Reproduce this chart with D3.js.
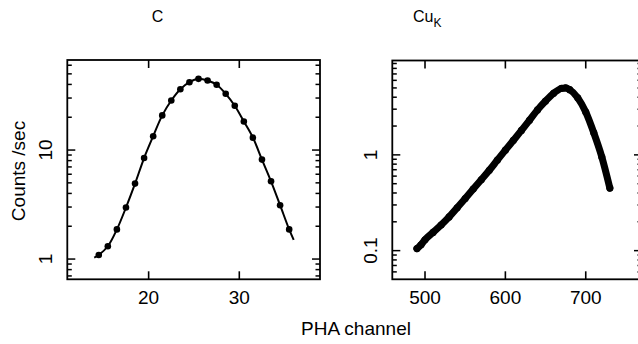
<!DOCTYPE html>
<html><head><meta charset="utf-8">
<script src="https://cdn.jsdelivr.net/npm/d3@7"></script>
<style>html,body{margin:0;padding:0;background:#fff;overflow:hidden} svg{display:block}</style>
</head><body>
<script>
// ---- data ----
const cChannel = [14.5,15.5,16.5,17.5,18.5,19.5,20.5,21.5,22.5,23.5,24.5,25.5,26.5,27.5,28.5,29.5,30.5,31.5,32.5,33.5,34.5,35.5];
const cCounts  = [1.09,1.31,1.87,2.97,4.92,8.45,13.4,20.8,28.5,36.1,41.9,45.0,43.4,39.7,32.8,25.5,18.3,13.0,8.17,5.17,3.12,1.87];
const cFitChannel = [14.0,14.5,15.5,16.5,17.5,18.5,19.5,20.5,21.5,22.5,23.5,24.5,25.5,26.5,27.5,28.5,29.5,30.5,31.5,32.5,33.5,34.5,35.5,36.0];
const cFitCounts  = [1.03,1.09,1.31,1.87,2.97,4.92,8.45,13.4,20.8,28.5,36.1,41.9,45.0,43.4,39.7,32.8,25.5,18.3,13.0,8.17,5.17,3.12,1.87,1.50];
const cuChannel = [490,495,500,510,520,530,540,550,560,570,580,590,600,610,620,630,640,650,660,670,675,680,690,700,710,720,730];
const cuCounts  = [0.105,0.115,0.13,0.155,0.185,0.225,0.28,0.35,0.44,0.55,0.69,0.88,1.12,1.42,1.8,2.3,2.95,3.65,4.4,4.95,5.0,4.8,3.95,2.8,1.7,0.95,0.45];
const cXTicks = [20,30];
const cuXTicks = [500,600,700];
const cYTickLabels = [1,10];
const cuYTickLabels = [0.1,1];
const titles = ["C","Cu"];
const yTitle = "Counts /sec";
const xTitle = "PHA channel";

const W = 638, H = 344;
const FONT = "'Liberation Sans', Arial, Helvetica, sans-serif";
const svg = d3.select("body").append("svg").attr("width", W).attr("height", H)
  .style("font-family", FONT);

function panel(o) {
  const x = d3.scaleLinear().domain(o.xDomain).range([o.left, o.right]);
  const y = d3.scaleLog().domain(o.yDomain).range([o.bottom, o.top]);
  const g = svg.append("g");
  g.append("rect").attr("x", o.left).attr("y", o.top)
    .attr("width", o.right - o.left).attr("height", o.bottom - o.top)
    .attr("fill", "none").attr("stroke", "#000").attr("stroke-width", 1.8);
  o.xTicks.forEach(t => {
    g.append("line").attr("x1", x(t)).attr("x2", x(t)).attr("y1", o.bottom).attr("y2", o.bottom - 8)
      .attr("stroke", "#000").attr("stroke-width", 1.6);
    g.append("line").attr("x1", x(t)).attr("x2", x(t)).attr("y1", o.top).attr("y2", o.top + 8)
      .attr("stroke", "#000").attr("stroke-width", 1.6);
    g.append("text").attr("x", x(t)).attr("y", o.bottom + 25).attr("text-anchor", "middle")
      .attr("font-size", 19).text(t);
  });
  y.ticks().forEach(t => {
    const lg = Math.log10(t);
    const major = Math.abs(lg - Math.round(lg)) < 1e-6;
    const len = major ? 8 : 4.5;
    g.append("line").attr("x1", o.left).attr("x2", o.left + len).attr("y1", y(t)).attr("y2", y(t))
      .attr("stroke", "#000").attr("stroke-width", 1.5);
    g.append("line").attr("x1", o.right).attr("x2", o.right - len).attr("y1", y(t)).attr("y2", y(t))
      .attr("stroke", "#000").attr("stroke-width", 1.5);
  });
  o.yLabels.forEach(t => {
    g.append("text").attr("transform", `translate(${o.left - 22},${y(t)}) rotate(-90)`)
      .attr("dy", "0.35em").attr("text-anchor", "middle").attr("font-size", 19).text(t);
  });
  return {x, y, g};
}

// Left panel: C
const L = panel({left: 67.3, right: 320, top: 60, bottom: 279.3,
  xDomain: [11.03, 38.9], yDomain: [0.652, 67], xTicks: cXTicks, yLabels: cYTickLabels});
const fit = cFitChannel.map((c, i) => [c, cFitCounts[i]]);
L.g.append("path").datum(fit)
  .attr("d", d3.line().x(d => L.x(d[0])).y(d => L.y(d[1])).curve(d3.curveCatmullRom))
  .attr("fill", "none").attr("stroke", "#000").attr("stroke-width", 2);
L.g.selectAll("circle.c").data(cChannel.map((c, i) => [c, cCounts[i]])).enter().append("circle")
  .attr("cx", d => L.x(d[0])).attr("cy", d => L.y(d[1])).attr("r", 3.3).attr("fill", "#000");

// Right panel: Cu K
const R = panel({left: 392.3, right: 642, top: 60.5, bottom: 279.3,
  xDomain: [459.3, 770], yDomain: [0.0502, 9.67], xTicks: cuXTicks, yLabels: cuYTickLabels});
const cu = cuChannel.map((c, i) => [c, cuCounts[i]]);
R.g.append("path").datum(cu)
  .attr("d", d3.line().x(d => R.x(d[0])).y(d => R.y(d[1])).curve(d3.curveMonotoneX))
  .attr("fill", "none").attr("stroke", "#000").attr("stroke-width", 7)
  .attr("stroke-linecap", "round").attr("stroke-linejoin", "round");
R.g.selectAll("circle.cu").data(cu).enter().append("circle")
  .attr("cx", d => R.x(d[0])).attr("cy", d => R.y(d[1])).attr("r", 3.6).attr("fill", "#000");

// titles
svg.append("text").attr("x", 157.5).attr("y", 22).attr("text-anchor", "middle")
  .attr("font-size", 16).text(titles[0]);
const t2 = svg.append("text").attr("x", 413).attr("y", 22).attr("font-size", 16);
t2.append("tspan").text(titles[1]);
t2.append("tspan").attr("font-size", 12).attr("dy", 5).text("K");

// axis titles
svg.append("text").attr("transform", "translate(18,171) rotate(-90)")
  .attr("dy", "0.35em").attr("text-anchor", "middle").attr("font-size", 19).text(yTitle);
svg.append("text").attr("x", 356).attr("y", 335).attr("text-anchor", "middle")
  .attr("font-size", 19).text(xTitle);
</script>
</body></html>
